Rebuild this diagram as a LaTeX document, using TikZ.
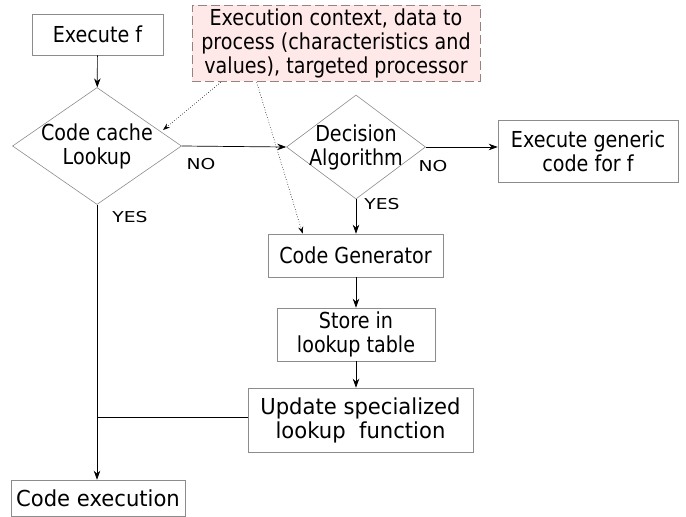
\documentclass[tikz,border=0pt]{standalone}
\usepackage{fontspec}
\setmainfont{DejaVu Sans}[FakeStretch=0.87]
\newfontfamily\widefont{DejaVu Sans}[FakeStretch=0.96]
\newfontfamily\lblfont{DejaVu Sans}[FakeStretch=1.25]
\usetikzlibrary{arrows.meta}
\usetikzlibrary{shapes.geometric}
\usetikzlibrary{calc}
\tikzset{>={Stealth[length=9pt,width=6.5pt]}}
\definecolor{boxgray}{RGB}{140,140,140}
\definecolor{ctxpink}{RGB}{255,232,232}
\definecolor{ctxline}{RGB}{150,130,130}
\tikzset{stepbox/.style={draw=boxgray,line width=0.6pt,align=center,inner sep=0pt,
    font=\fontsize{22}{24}\selectfont}}
\tikzset{widebox/.style={stepbox,font=\widefont\fontsize{22}{24}\selectfont}}
\tikzset{testbox/.style={stepbox,shape=diamond,inner sep=-12pt}}
\tikzset{yesno/.style={font=\lblfont\fontsize{15}{16}\selectfont}}
\tikzset{flow/.style={->,line width=0.7pt}}
\tikzset{hint/.style={-{Stealth[length=7pt,width=5pt]},dotted,line width=0.6pt}}

\begin{document}
\begin{tikzpicture}[x=1pt,y=-1pt]
    \useasboundingbox (0,0) rectangle (686,517);
    \node[stepbox,minimum width=131pt,minimum height=41pt] (exe) at (97.5,34.5) {Execute f};
    \node[testbox,minimum width=169pt,minimum height=117pt] (cache) at (97,146) {Code cache\\Lookup};
    \node[testbox,minimum width=139pt,minimum height=104pt] (dec) at (356,147) {Decision\\Algorithm};
    \node[stepbox,minimum width=180pt,minimum height=62pt] (gen) at (588,151) {Execute generic\\code for f};
    \node[stepbox,minimum width=175pt,minimum height=43pt] (cg) at (355.5,255.5) {Code Generator};
    \node[stepbox,minimum width=158pt,minimum height=53pt] (store) at (356,334.5) {Store in\\lookup table};
    \node[widebox,minimum width=225pt,minimum height=64pt] (upd) at (360.5,420) {Update specialized\\lookup\ \ function};
    \node[widebox,minimum width=174pt,minimum height=36pt] (run) at (98,498) {Code execution};
    \node[stepbox,draw=ctxline,dash pattern=on 9pt off 4pt,fill=ctxpink,
      minimum width=288pt,minimum height=76pt] (ctx) at (336,43)
      {Execution context, data to\\process (characteristics and\\values), targeted processor};

    \node[yesno] (no1) at (201,164) {NO};
    \node[yesno] (yes1) at (130,217) {YES};
    \node[yesno] (no2) at (433,166) {NO};
    \node[yesno] (yes2) at (382,204) {YES};

    \draw[flow] (exe) -- (cache);
    \draw[flow] (cache.east) -- (dec.west);
    \draw[flow] (dec.east) -- (gen.west |- dec.east);
    \draw[flow] (dec.south) -- (dec.south |- cg.north);
    \draw[flow] (cg.south -| store.north) -- (store.north);
    \draw[flow] (store.south) -- (store.south |- upd.north);
    \draw[flow] (cache.south) -- (cache.south |- run.north);
    \draw[line width=0.7pt] ($(upd.west)+(0,-3)$) -- ($(upd.west -| cache.south)+(0,-3)$);

    \coordinate (c1) at ($(ctx.south west)+(29,1)$);
    \coordinate (c2) at ($(ctx.south west)+(65,1)$);
    \draw[hint] (c1) -- (163,130);
    \draw[hint] (c2) -- ($(cg.north west)+(35,0)$);
\end{tikzpicture}
\end{document}
